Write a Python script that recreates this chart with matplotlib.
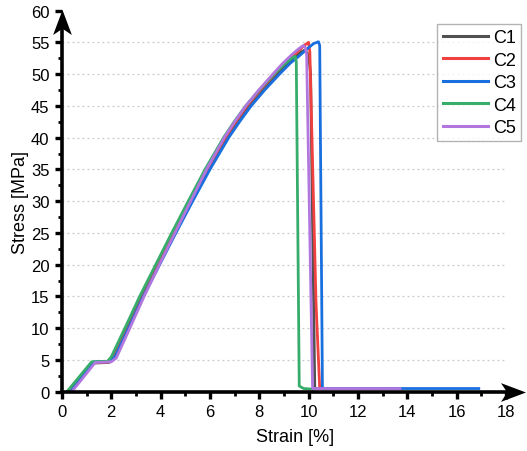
import numpy as np
import matplotlib
matplotlib.use("Agg")
import matplotlib.pyplot as plt
from matplotlib.path import Path
from matplotlib.ticker import MultipleLocator

plt.rcParams['font.family'] = ['Liberation Sans', 'DejaVu Sans']

# stress-strain curves, strain in %, stress in MPa
c1_strain = [0.3, 1.25, 1.9, 2.1, 2.65, 3.25, 3.9, 4.55, 5.22, 5.9, 6.65, 7.08, 7.55, 8.1, 8.7, 9.1, 9.45, 9.7, 9.85, 10.0, 10.08, 10.25, 13.0]
c1_stress = [0, 4.5, 4.6, 5.5, 10, 15, 20, 25, 30, 35, 40, 42.5, 45, 47.5, 50, 51.5, 52.7, 53.5, 53.8, 53.0, 50.0, 0.5, 0.5]

c2_strain = [0.3, 1.3, 1.95, 2.12, 2.68, 3.28, 3.92, 4.57, 5.22, 5.88, 6.62, 7.04, 7.5, 8.04, 8.62, 9.0, 9.35, 9.65, 9.85, 10.0, 10.05, 10.3, 10.45, 13.5]
c2_stress = [0, 4.6, 4.7, 5.5, 10, 15, 20, 25, 30, 35, 40, 42.5, 45, 47.5, 50, 51.6, 52.8, 53.9, 54.6, 55.0, 53.5, 14.0, 0.5, 0.5]

c3_strain = [0.35, 1.3, 1.95, 2.15, 2.7, 3.3, 3.96, 4.62, 5.3, 6.0, 6.76, 7.2, 7.67, 8.22, 8.82, 9.25, 9.6, 9.95, 10.2, 10.4, 10.45, 10.56, 16.9]
c3_stress = [0, 4.7, 4.8, 5.5, 10, 15, 20, 25, 30, 35, 40, 42.5, 45, 47.5, 50, 51.7, 52.8, 54.0, 54.8, 55.1, 54.5, 0.5, 0.5]

c4_strain = [0.2, 1.2, 1.85, 2.0, 2.55, 3.15, 3.8, 4.45, 5.12, 5.8, 6.55, 6.98, 7.45, 8.0, 8.6, 9.0, 9.3, 9.45, 9.5, 9.62, 9.8, 10.2]
c4_stress = [0, 4.7, 4.8, 5.5, 10, 15, 20, 25, 30, 35, 40, 42.5, 45, 47.5, 50, 51.5, 52.5, 52.8, 52.0, 0.9, 0.5, 0.4]

c5_strain = [0.4, 1.35, 2.0, 2.2, 2.75, 3.33, 3.95, 4.58, 5.22, 5.86, 6.58, 7.0, 7.45, 7.98, 8.55, 8.95, 9.3, 9.6, 9.78, 9.87, 9.92, 10.16, 10.3, 13.7]
c5_stress = [0, 4.6, 4.7, 5.3, 10, 15, 20, 25, 30, 35, 40, 42.5, 45, 47.5, 50, 51.7, 53.0, 54.0, 54.5, 54.2, 53.0, 0.5, 0.5, 0.5]

names = ['C1', 'C2', 'C3', 'C4', 'C5']
colors = ['#515151', '#F14040', '#1A6FDF', '#37AD6B', '#B177DE']

fig = plt.figure(figsize=(5.27, 4.52), dpi=100)
ax = fig.add_axes([0.1176, 0.1312, 0.8424, 0.8431])

curves = [(c1_strain, c1_stress), (c2_strain, c2_stress), (c3_strain, c3_stress),
          (c4_strain, c4_stress), (c5_strain, c5_stress)]
for (x, y), name, col in zip(curves, names, colors):
    ax.plot(x, y, color=col, lw=2.0, label=name, solid_joinstyle='round')

ax.set_xlim(0, 18)
ax.set_ylim(0, 60)
ax.xaxis.set_major_locator(MultipleLocator(2))
ax.xaxis.set_minor_locator(MultipleLocator(1))
ax.yaxis.set_major_locator(MultipleLocator(5))
ax.yaxis.set_minor_locator(MultipleLocator(2.5))

# dotted grid at the stress ticks
for yv in range(5, 60, 5):
    ax.axhline(yv, color='#c8c8c8', lw=0.9, ls=(0, (1.5, 2.5)), zorder=0)

for s in ['top', 'right']:
    ax.spines[s].set_visible(False)
for s in ['left', 'bottom']:
    ax.spines[s].set_linewidth(2.6)
ax.spines['left'].set_bounds(0, 58)

ax.tick_params(which='major', direction='out', length=5, width=2.4, labelsize=12, pad=4)
ax.tick_params(which='minor', direction='out', length=3, width=2.0)

# notched arrow heads at the ends of the axes
head_right = Path([(1, 0), (-1, 0.75), (-0.5, 0), (-1, -0.75), (1, 0)],
                  [Path.MOVETO, Path.LINETO, Path.LINETO, Path.LINETO, Path.CLOSEPOLY])
head_up = Path([(0, 1), (0.75, -1), (0, -0.5), (-0.75, -1), (0, 1)],
               [Path.MOVETO, Path.LINETO, Path.LINETO, Path.LINETO, Path.CLOSEPOLY])
ax.plot([1.017], [0], marker=head_right, ms=18, color='black', mew=0,
        transform=ax.transAxes, clip_on=False, zorder=5)
ax.plot([0], [0.971], marker=head_up, ms=18, color='black', mew=0,
        transform=ax.transAxes, clip_on=False, zorder=5)

ax.set_xlabel('Strain [%]', fontsize=13, labelpad=8)
ax.xaxis.set_label_coords(0.525, -0.095)
ax.set_ylabel('Stress [MPa]', fontsize=13, labelpad=1.5)

leg = ax.legend(loc='upper right', bbox_to_anchor=(1.035, 0.965), borderaxespad=0,
                fontsize=13, frameon=True, fancybox=False, handlelength=2.5,
                handletextpad=0.3, labelspacing=0.3, borderpad=0.3)
leg.get_frame().set_edgecolor('#a0a0a0')
leg.get_frame().set_linewidth(1.0)
for line in leg.get_lines():
    line.set_linewidth(2.2)

fig.savefig('out.png', dpi=100)
